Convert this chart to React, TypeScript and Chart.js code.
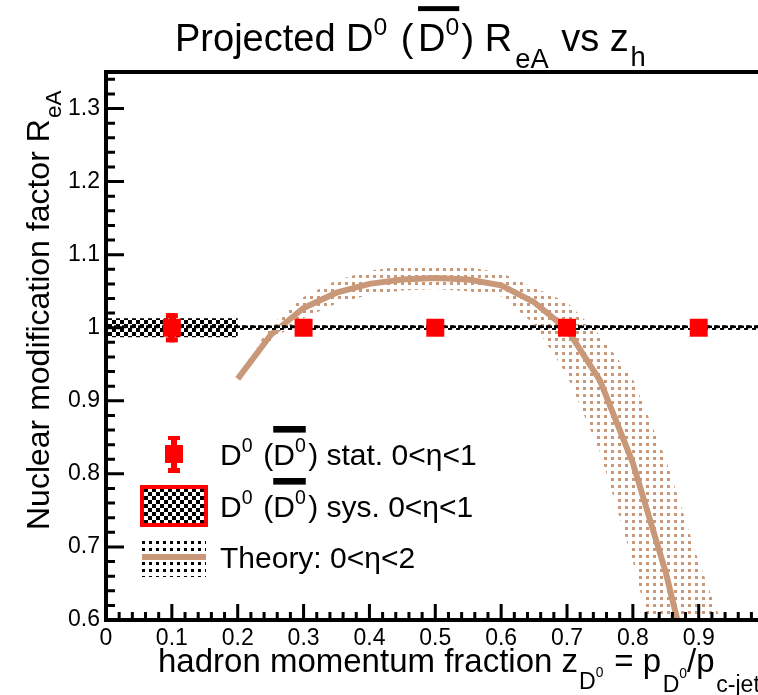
import React, { useEffect, useRef } from 'react';
import { Chart, registerables } from 'chart.js';

Chart.register(...registerables);

const FONT = '"Liberation Sans", Arial, Helvetica, sans-serif';
const TAN = '#c89878';
const RED = '#ff0000';

// Projected D0 R_eA points (bin centres, values, uncertainties)
const zBins = [0.1, 0.3, 0.5, 0.7, 0.9];
const binHalfWidths = [0.1, 0.1, 0.1, 0.1, 0.1];
const reaValues = [1.0, 1.0, 1.0, 1.0, 1.0];
const statErrors = [0.02, 0.004, 0.004, 0.004, 0.004];
const sysErrors = [0.013, 0.003, 0.003, 0.003, 0.003];

// Theory calculation: central curve and uncertainty band
const theoryZ = [0.2, 0.25, 0.3, 0.35, 0.4, 0.45, 0.5, 0.55, 0.6, 0.65, 0.7, 0.75, 0.8, 0.85, 0.9, 0.95];
const theoryCentral = [0.93, 0.99, 1.027, 1.048, 1.06, 1.066, 1.068, 1.066, 1.058, 1.035, 0.998, 0.928, 0.815, 0.665, 0.48, 0.3];
const theoryUpper = [0.933, 1.003, 1.042, 1.065, 1.078, 1.084, 1.086, 1.083, 1.075, 1.055, 1.035, 0.99, 0.93, 0.82, 0.68, 0.56];
const theoryLower = [0.927, 0.982, 1.013, 1.033, 1.045, 1.051, 1.053, 1.05, 1.043, 1.005, 0.935, 0.83, 0.68, 0.5, 0.3, 0.15];

// Axis ranges and labelled ticks
const X_MIN = 0;
const X_MAX = 0.99;
const Y_MIN = 0.6;
const Y_MAX = 1.35;
const xTickValues = [0, 0.1, 0.2, 0.3, 0.4, 0.5, 0.6, 0.7, 0.8, 0.9];
const xTickLabels = ['0', '0.1', '0.2', '0.3', '0.4', '0.5', '0.6', '0.7', '0.8', '0.9'];
const yTickValues = [0.6, 0.7, 0.8, 0.9, 1.0, 1.1, 1.2, 1.3];
const yTickLabels = ['0.6', '0.7', '0.8', '0.9', '1', '1.1', '1.2', '1.3'];

type Run = { t: string; s?: number; dy?: number; bar?: boolean; pre?: number; post?: number };

function drawRuns(
  ctx: CanvasRenderingContext2D,
  runs: Run[],
  x0: number,
  y0: number,
  size: number,
  bar?: { top: number; h: number }
) {
  let x = x0;
  let barStart: number | null = null;
  let barEnd = 0;
  ctx.textAlign = 'left';
  ctx.textBaseline = 'alphabetic';
  for (const r of runs) {
    const fs = size * (r.s ?? 1);
    ctx.font = `${fs}px ${FONT}`;
    x += (r.pre ?? 0) * size;
    const w = ctx.measureText(r.t).width;
    ctx.fillText(r.t, x, y0 + (r.dy ?? 0) * size);
    if (r.bar) {
      if (barStart === null) barStart = x;
      barEnd = x + w;
    }
    x += w + (r.post ?? 0) * size;
  }
  if (bar && barStart !== null) {
    ctx.fillRect(barStart, y0 - bar.top * size, barEnd - barStart, bar.h * size);
  }
  return x - x0;
}

function makeChecker(): CanvasPattern | string {
  const c = document.createElement('canvas');
  c.width = 8;
  c.height = 8;
  const g = c.getContext('2d');
  if (!g) return '#000';
  g.fillStyle = '#fff';
  g.fillRect(0, 0, 8, 8);
  g.fillStyle = '#000';
  g.fillRect(0, 0, 4, 4);
  g.fillRect(4, 4, 4, 4);
  const p = g.createPattern(c, 'repeat');
  return p ?? '#000';
}

function makeDots(color: string): CanvasPattern | string {
  const c = document.createElement('canvas');
  c.width = 7;
  c.height = 7;
  const g = c.getContext('2d');
  if (!g) return color;
  g.fillStyle = color;
  g.fillRect(2, 2, 3, 3);
  const p = g.createPattern(c, 'repeat');
  return p ?? color;
}

const titleRuns: Run[] = [
  { t: 'Projected D' },
  { t: '0', s: 0.65, dy: -0.42, post: 0.08 },
  { t: ' (', post: 0.12 },
  { t: 'D', bar: true },
  { t: '0', s: 0.65, dy: -0.42, bar: true, post: 0.06 },
  { t: ') R' },
  { t: 'eA', s: 0.72, dy: 0.45, pre: 0.08, post: 0.05 },
  { t: ' vs z' },
  { t: 'h', s: 0.72, dy: 0.4, pre: 0.05 },
];

const xTitleRuns: Run[] = [
  { t: 'hadron momentum fraction z' },
  { t: 'D', s: 0.7, dy: 0.52, pre: 0.03 },
  { t: '0', s: 0.42, dy: 0.16 },
  { t: ' = p', pre: 0.05 },
  { t: 'D', s: 0.7, dy: 0.62, pre: 0.05 },
  { t: '0', s: 0.42, dy: 0.18 },
  { t: '/p' },
  { t: 'c-jet', s: 0.7, dy: 0.6, pre: 0.05 },
];

const yTitleRuns: Run[] = [
  { t: 'Nuclear modification factor R' },
  { t: 'eA', s: 0.7, dy: 0.38, pre: 0.04 },
];

const legendStatRuns: Run[] = [
  { t: 'D' },
  { t: '0', s: 0.65, dy: -0.45, post: 0.08 },
  { t: ' (' },
  { t: 'D', bar: true },
  { t: '0', s: 0.65, dy: -0.45, bar: true, post: 0.04 },
  { t: ') stat. 0<\u03b7<1', pre: 0.04 },
];

const legendSysRuns: Run[] = [
  { t: 'D' },
  { t: '0', s: 0.65, dy: -0.45, post: 0.08 },
  { t: ' (' },
  { t: 'D', bar: true },
  { t: '0', s: 0.65, dy: -0.45, bar: true, post: 0.04 },
  { t: ') sys. 0<\u03b7<1', pre: 0.04 },
];

const legendTheoryRuns: Run[] = [{ t: 'Theory: 0<\u03b7<2' }];

export default function App() {
  const canvasRef = useRef<HTMLCanvasElement | null>(null);

  useEffect(() => {
    const canvas = canvasRef.current;
    if (!canvas) return;

    const checker = makeChecker();
    const tanDots = makeDots(TAN);
    const blackDots = makeDots('#000');

    const overlay = {
      id: 'rootStyleOverlay',
      beforeDatasetDraw(chart: any, args: any) {
        if (args.index !== 0) return;
        const { ctx, chartArea } = chart;
        const xs = chart.scales.x;
        const ys = chart.scales.y;
        ctx.save();
        ctx.beginPath();
        ctx.rect(chartArea.left, chartArea.top, chartArea.right - chartArea.left, chartArea.bottom - chartArea.top);
        ctx.clip();

        // systematic boxes
        ctx.fillStyle = checker;
        zBins.forEach((z, i) => {
          const l = xs.getPixelForValue(z - binHalfWidths[i]);
          const r = xs.getPixelForValue(z + binHalfWidths[i]);
          const t = ys.getPixelForValue(reaValues[i] + sysErrors[i]);
          const b = ys.getPixelForValue(reaValues[i] - sysErrors[i]);
          ctx.fillRect(l, t, r - l, b - t);
        });

        // unity reference line
        const y1 = ys.getPixelForValue(1.0);
        ctx.strokeStyle = '#000';
        ctx.lineWidth = 3;
        ctx.setLineDash([4, 4]);
        ctx.beginPath();
        ctx.moveTo(chartArea.left, y1 - 1);
        ctx.lineTo(chartArea.right, y1 - 1);
        ctx.stroke();
        ctx.setLineDash([]);

        // statistical error bars
        ctx.fillStyle = RED;
        zBins.forEach((z, i) => {
          const cx = xs.getPixelForValue(z);
          const t = ys.getPixelForValue(reaValues[i] + statErrors[i]);
          const b = ys.getPixelForValue(reaValues[i] - statErrors[i]);
          if (b - t < 20) return;
          ctx.fillRect(cx - 3, t, 6, b - t);
          ctx.fillRect(cx - 6, t, 12, 5);
          ctx.fillRect(cx - 6, b - 5, 12, 5);
        });
        ctx.restore();
      },
      afterDraw(chart: any) {
        const { ctx, chartArea } = chart;
        const xs = chart.scales.x;
        const ys = chart.scales.y;
        const L = chartArea.left;
        const R = chartArea.right;
        const T = chartArea.top;
        const B = chartArea.bottom;
        ctx.save();

        // frame
        ctx.strokeStyle = '#000';
        ctx.lineWidth = 4;
        ctx.beginPath();
        ctx.moveTo(L, T - 2);
        ctx.lineTo(L, B);
        ctx.moveTo(L - 2, B);
        ctx.lineTo(R + 2, B);
        ctx.moveTo(L - 2, T);
        ctx.lineTo(R + 2, T);
        ctx.stroke();

        // inward ticks
        ctx.lineWidth = 3;
        ctx.beginPath();
        for (let k = 0; k < 60; k++) {
          const v = Y_MIN + k * 0.02;
          if (v > Y_MAX + 1e-9) break;
          const py = ys.getPixelForValue(v);
          const len = k % 5 === 0 ? 18 : 9;
          ctx.moveTo(L, py);
          ctx.lineTo(L + len, py);
        }
        for (let k = 0; k < 60; k++) {
          const v = X_MIN + k * 0.02;
          if (v > X_MAX + 1e-9) break;
          const px = xs.getPixelForValue(v);
          const len = k % 5 === 0 ? 16 : 8;
          ctx.moveTo(px, B);
          ctx.lineTo(px, B - len);
        }
        ctx.stroke();

        // tick labels
        ctx.fillStyle = '#000';
        ctx.font = `23px ${FONT}`;
        ctx.textAlign = 'right';
        ctx.textBaseline = 'middle';
        yTickValues.forEach((v, i) => {
          ctx.fillText(yTickLabels[i], L - 6, ys.getPixelForValue(v));
        });
        ctx.textAlign = 'center';
        ctx.textBaseline = 'top';
        xTickValues.forEach((v, i) => {
          ctx.fillText(xTickLabels[i], xs.getPixelForValue(v), B + 7);
        });

        // titles
        drawRuns(ctx, titleRuns, 175, 51, 38, { top: 1.18, h: 0.13 });
        drawRuns(ctx, xTitleRuns, 158, 672, 33);
        ctx.save();
        ctx.translate(49, 530);
        ctx.rotate(-Math.PI / 2);
        drawRuns(ctx, yTitleRuns, 0, 0, 32);
        ctx.restore();

        // legend: statistical marker
        ctx.fillStyle = RED;
        ctx.fillRect(168, 436, 12, 4);
        ctx.fillRect(171, 436, 6, 36);
        ctx.fillRect(165, 445, 18, 18);
        ctx.fillRect(168, 468, 12, 5);
        // legend: systematic box
        ctx.fillStyle = checker;
        ctx.fillRect(142, 487, 64, 38);
        ctx.strokeStyle = RED;
        ctx.lineWidth = 4;
        ctx.strokeRect(142, 487, 64, 38);
        // legend: theory band and line
        ctx.fillStyle = blackDots;
        ctx.fillRect(142, 540, 64, 37);
        ctx.strokeStyle = TAN;
        ctx.lineWidth = 6;
        ctx.beginPath();
        ctx.moveTo(142, 557);
        ctx.lineTo(206, 557);
        ctx.stroke();

        ctx.fillStyle = '#000';
        drawRuns(ctx, legendStatRuns, 220, 465, 30, { top: 1.3, h: 0.22 });
        drawRuns(ctx, legendSysRuns, 220, 517, 30, { top: 1.3, h: 0.22 });
        drawRuns(ctx, legendTheoryRuns, 220, 568, 30);

        ctx.restore();
      },
    };

    const pts = (xs: number[], ys: number[]) => xs.map((x, i) => ({ x, y: ys[i] }));

    const chart = new Chart(canvas, {
      type: 'line',
      data: {
        datasets: [
          {
            label: 'D0 projected',
            data: pts(zBins, reaValues),
            showLine: false,
            pointStyle: 'rect',
            pointRadius: 12.7,
            pointBackgroundColor: RED,
            pointBorderColor: RED,
            pointBorderWidth: 0,
          },
          {
            label: 'Theory',
            data: pts(theoryZ, theoryCentral),
            borderColor: TAN,
            borderWidth: 6,
            pointRadius: 0,
            tension: 0,
            fill: false,
          },
          {
            label: 'Theory upper',
            data: pts(theoryZ, theoryUpper),
            borderColor: 'transparent',
            borderWidth: 0,
            pointRadius: 0,
            tension: 0,
            fill: '+1',
            backgroundColor: tanDots as any,
          },
          {
            label: 'Theory lower',
            data: pts(theoryZ, theoryLower),
            borderColor: 'transparent',
            borderWidth: 0,
            pointRadius: 0,
            tension: 0,
            fill: false,
          },
        ],
      },
      options: {
        animation: false,
        responsive: false,
        devicePixelRatio: 1,
        events: [],
        layout: { autoPadding: false, padding: { left: 106, top: 72, right: 0, bottom: 75 } },
        scales: {
          x: { type: 'linear', min: X_MIN, max: X_MAX, display: false },
          y: { type: 'linear', min: Y_MIN, max: Y_MAX, display: false },
        },
        plugins: {
          legend: { display: false },
          tooltip: { enabled: false },
          title: { display: false },
        },
      },
      plugins: [overlay],
    });

    return () => chart.destroy();
  }, []);

  return (
    <div style={{ position: 'fixed', left: 0, top: 0, width: 758, height: 695, background: '#fff', overflow: 'hidden' }}>
      <canvas ref={canvasRef} width={758} height={695} style={{ display: 'block' }} />
    </div>
  );
}
